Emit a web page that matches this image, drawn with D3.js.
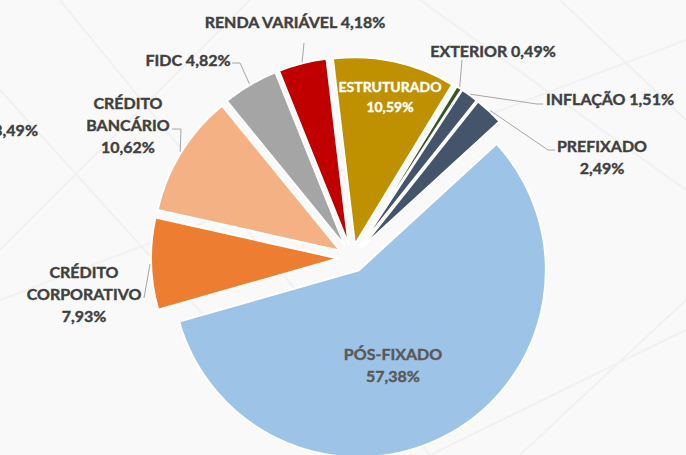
<!DOCTYPE html>
<html>
<head>
<meta charset="utf-8">
<script src="https://cdn.jsdelivr.net/npm/d3@7"></script>
<style>
  html, body { margin: 0; padding: 0; background: #f9f9f9; }
  svg { display: block; }
  text { font-family: Lato, "Open Sans", sans-serif; font-weight: 700; }
</style>
</head>
<body>
<svg id="chart" width="686" height="455"></svg>
<script>
// data, in the order the slices run clockwise
const categories = ["PÓS-FIXADO", "CRÉDITO CORPORATIVO", "CRÉDITO BANCÁRIO", "FIDC",
                    "RENDA VARIÁVEL", "ESTRUTURADO", "EXTERIOR", "INFLAÇÃO", "PREFIXADO"];
const values = [57.38, 7.93, 10.62, 4.82, 4.18, 10.59, 0.49, 1.51, 2.49];
const colors = ["#9dc3e6", "#ed7d31", "#f4b183", "#a5a5a5", "#c00000",
                "#bf9000", "#375623", "#44546a", "#44546a"];
const strayLabel = "3,49%";   // cut-off label from the neighbouring chart

const svg = d3.select("#chart");
const cx = 352, cy = 258, radius = 187, explode = 14;
const fmt = v => d3.format(".2f")(v).replace(".", ",") + "%";

// faint background pattern
const bgLines = [[[60, 0], [430, 455]], [[0, 300], [686, 40]], [[250, 0], [0, 250]],
                 [[420, 0], [686, 190]], [[520, 455], [686, 300]], [[0, 90], [330, 455]],
                 [[560, 0], [686, 120]], [[430, 455], [686, 330]]];
svg.append("g").selectAll("line").data(bgLines).enter().append("line")
  .attr("x1", d => d[0][0]).attr("y1", d => d[0][1])
  .attr("x2", d => d[1][0]).attr("y2", d => d[1][1])
  .attr("stroke", "#f1f1f1").attr("stroke-width", 2);

const color = d3.scaleOrdinal().domain(categories).range(colors);

const pie = d3.pie().sort(null).value(d => d.value)
  .startAngle(47.5 * Math.PI / 180)
  .endAngle(47.5 * Math.PI / 180 + 2 * Math.PI);

const arcs = pie(categories.map((c, i) => ({cat: c, value: values[i]})));
const arc = d3.arc().innerRadius(0).outerRadius(radius);
const mid = d => (d.startAngle + d.endAngle) / 2;
const polar = (a, r) => [cx + r * Math.sin(a), cy - r * Math.cos(a)];

const g = svg.append("g");
g.selectAll("path").data(arcs).enter().append("path")
  .attr("transform", d => {
    const p = polar(mid(d), explode);
    return "translate(" + p[0] + "," + p[1] + ")";
  })
  .attr("d", arc)
  .attr("fill", d => color(d.data.cat))
  .attr("stroke", "#ffffff")
  .attr("stroke-width", 2)
  .attr("stroke-linejoin", "round");

// label layout: text lines, anchor point, leader path after the slice edge
const labelLayout = {
  "PÓS-FIXADO":          {lines: ["PÓS-FIXADO", "{v}"], x: 393, y: 360, fill: "#595959"},
  "CRÉDITO CORPORATIVO": {lines: ["CRÉDITO", "CORPORATIVO", "{v}"], x: 84, y: 278, leader: [[144, 298]]},
  "CRÉDITO BANCÁRIO":    {lines: ["CRÉDITO", "BANCÁRIO", "{v}"], x: 128, y: 109, leader: [[181, 129], [172, 129]]},
  "FIDC":                {lines: ["FIDC {v}"], x: 188, y: 66, leader: [[240, 63], [232, 63]]},
  "RENDA VARIÁVEL":      {lines: ["RENDA VARIÁVEL {v}"], x: 295, y: 28, leader: [[304, 43]]},
  "ESTRUTURADO":         {lines: ["ESTRUTURADO", "{v}"], x: 390, y: 92, fill: "#ffffff", size: 14, lh: 20},
  "EXTERIOR":            {lines: ["EXTERIOR {v}"], x: 493, y: 57, leader: [[462, 60]]},
  "INFLAÇÃO":            {lines: ["INFLAÇÃO {v}"], x: 610, y: 105, leader: [[537, 104], [543, 104]]},
  "PREFIXADO":           {lines: ["PREFIXADO", "{v}"], x: 602, y: 152, leader: [[548, 150], [555, 150]]}
};

arcs.forEach(d => {
  const L = labelLayout[d.data.cat];
  if (L.leader) {
    const start = polar(mid(d), radius + explode + 1);
    svg.append("path")
      .attr("d", d3.line()([start].concat(L.leader)))
      .attr("fill", "none")
      .attr("stroke", "#a6a6a6")
      .attr("stroke-width", 1);
  }
  const fill = L.fill || "#404040";
  const t = svg.append("text")
    .attr("x", L.x).attr("y", L.y)
    .attr("text-anchor", "middle")
    .attr("font-size", (L.size || 16) + "px")
    .attr("fill", fill)
    .attr("stroke", fill)
    .attr("stroke-width", 0.4);
  L.lines.forEach((s, i) => {
    t.append("tspan")
      .attr("x", L.x)
      .attr("dy", i === 0 ? 0 : (L.lh || 22))
      .text(s.replace("{v}", fmt(d.data.value)));
  });
});

svg.append("text")
  .attr("x", 38).attr("y", 136)
  .attr("text-anchor", "end")
  .attr("font-size", "16px")
  .attr("fill", "#404040")
  .attr("stroke", "#404040")
  .attr("stroke-width", 0.4)
  .text(strayLabel);
</script>
</body>
</html>
